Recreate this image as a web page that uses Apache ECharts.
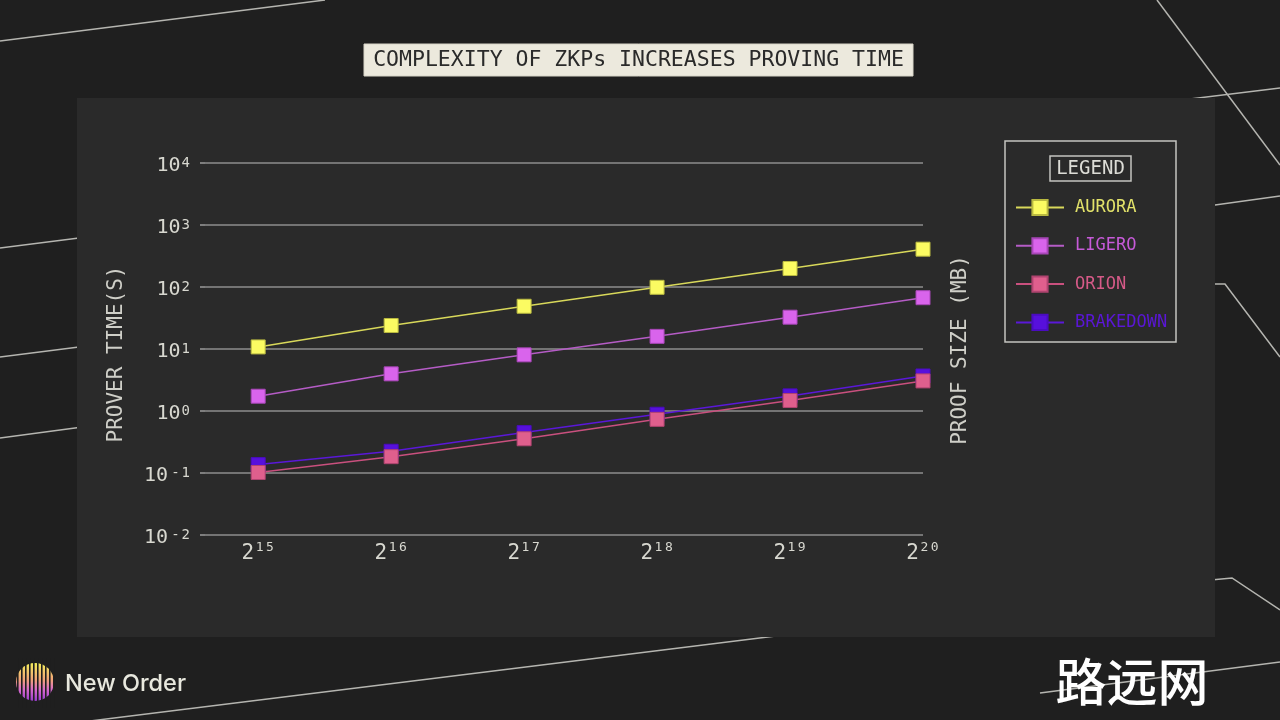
<!DOCTYPE html>
<html><head><meta charset="utf-8">
<script src="https://cdn.jsdelivr.net/npm/echarts@6/dist/echarts.min.js"></script>
<style>html,body{margin:0;padding:0;background:#1f1f1f;}#c{width:1280px;height:720px;}</style>
</head><body><div id="c"></div>
<script>
// x categories are exponents of 2 (2^15 ... 2^20)
const xExponents = [15, 16, 17, 18, 19, 20];
const seriesNames = ['AURORA', 'LIGERO', 'ORION', 'BRAKEDOWN'];
const aurora    = [10.6, 23.5, 48, 97, 195, 400];
const ligero    = [1.7, 3.9, 7.9, 15.7, 32, 66];
const orion     = [0.1, 0.18, 0.35, 0.72, 1.45, 3.0];
const brakedown = [0.134, 0.22, 0.44, 0.87, 1.72, 3.6];
const yTickExponents = [-2, -1, 0, 1, 2, 3, 4];

const MONO = '"DejaVu Sans Mono", "Liberation Mono", monospace';
const chart = echarts.init(document.getElementById('c'), null, {renderer: 'canvas'});

const styles = {
  AURORA:    {line: '#d8d85a', fill: '#fbfb62', border: '#b9b940', text: '#e2e26a'},
  LIGERO:    {line: '#b55cc6', fill: '#d964ec', border: '#a846b8', text: '#c65ad8'},
  ORION:     {line: '#c9507e', fill: '#df5f8d', border: '#b04470', text: '#d65a88'},
  BRAKEDOWN: {line: '#5a18d8', fill: '#5710dc', border: '#4a0cc0', text: '#5a16d6'}
};
const values = {AURORA: aurora, LIGERO: ligero, ORION: orion, BRAKEDOWN: brakedown};

function mkSeries(name) {
  const st = styles[name];
  return {
    name: name, type: 'line',
    data: xExponents.map((e, i) => [e, values[name][i]]),
    symbol: 'rect', symbolSize: 14,
    lineStyle: {color: st.line, width: 1.5},
    itemStyle: {color: st.fill, borderColor: st.border, borderWidth: 1},
    emphasis: {disabled: true}
  };
}

function bgLine(points) {
  return {type: 'polyline', z: -20, silent: true,
    shape: {points: points},
    style: {stroke: '#b5b5b0', lineWidth: 1.5, fill: null}};
}

// logo stripes
const logoEls = [];
logoEls.push({type: 'circle', z: -3, shape: {cx: 35, cy: 682, r: 19},
  style: {fill: new echarts.graphic.LinearGradient(0, 0, 0, 1, [
    {offset: 0, color: '#f3ee5a'}, {offset: 0.45, color: '#f2a27a'},
    {offset: 0.7, color: '#d86acc'}, {offset: 1, color: '#9a3ccf'}])}});
for (let x = 17; x <= 53; x += 4) {
  logoEls.push({type: 'rect', z: -2, shape: {x: x, y: 658, width: 1.6, height: 50},
    style: {fill: '#1f1f1f'}});
}

const LBL = '#d8d8d0';
const option = {
  backgroundColor: '#1f1f1f',
  animation: false,
  grid: {left: 205, right: 357, top: 162.5, bottom: 185.5, containLabel: false},
  xAxis: {
    type: 'value', min: 14.6, max: 20,
    axisLine: {show: false}, axisTick: {show: false}, splitLine: {show: false},
    axisLabel: {
      customValues: xExponents,
      margin: 7,
      formatter: function (v) {
        const digits = String(Math.round(v)).split('');
        return '{b|2}' + digits.map(d => '{s|' + d + '}').join('');
      },
      rich: {
        b: {fontFamily: MONO, fontSize: 21, lineHeight: 21, padding: [3, 0, 0, 0], color: LBL},
        s: {fontFamily: MONO, fontSize: 13, lineHeight: 13, verticalAlign: 'top', color: LBL, padding: [0, 1, 0, 1.5]}
      }
    }
  },
  yAxis: {
    type: 'log', logBase: 10,
    min: Math.pow(10, yTickExponents[0]), max: Math.pow(10, yTickExponents[yTickExponents.length - 1]),
    splitNumber: yTickExponents.length - 1,
    axisLine: {show: false},
    axisTick: {show: true, length: 5, lineStyle: {color: '#9a9a9a', width: 1.5}},
    splitLine: {show: true, lineStyle: {color: '#8e8e8e', width: 1.5}},
    axisLabel: {
      margin: 15,
      formatter: function (v) {
        const e = Math.round(Math.log10(v));
        if (e < 0) return '{b|10}{m|-}{s|' + Math.abs(e) + '}';
        return '{b|10}{p|' + e + '}';
      },
      rich: {
        b: {fontFamily: MONO, fontSize: 20, lineHeight: 20, padding: [7, 0, 0, 0], color: LBL},
        p: {fontFamily: MONO, fontSize: 14, lineHeight: 14, padding: [4, 0, 0, 1], verticalAlign: 'top', color: LBL},
        m: {fontFamily: MONO, fontSize: 14, lineHeight: 14, padding: [4, 2, 0, 3], verticalAlign: 'top', color: LBL},
        s: {fontFamily: MONO, fontSize: 14, lineHeight: 14, padding: [4, 0, 0, 0], verticalAlign: 'top', color: LBL}
      }
    }
  },
  legend: {
    orient: 'vertical', left: 1015, top: 197, padding: 0,
    itemWidth: 48, itemHeight: 19, itemGap: 17.3,
    selectedMode: false,
    textStyle: {fontFamily: MONO, fontSize: 17, lineHeight: 19, padding: [2, 0, 0, 6]},
    data: seriesNames.map(n => ({name: n, textStyle: {color: styles[n].text}}))
  },
  series: [mkSeries('AURORA'), mkSeries('LIGERO'), mkSeries('BRAKEDOWN'), mkSeries('ORION')],
  graphic: {elements: [
    bgLine([[0, 41], [325, 0]]),
    bgLine([[1157, 0], [1280, 165]]),
    bgLine([[1100, 110], [1280, 88]]),
    bgLine([[1150, 214], [1280, 196]]),
    bgLine([[1200, 284], [1225, 284], [1280, 357]]),
    bgLine([[0, 248], [150, 229]]),
    bgLine([[0, 357], [150, 338]]),
    bgLine([[0, 438], [150, 418]]),
    bgLine([[90, 721], [800, 633]]),
    bgLine([[1040, 693], [1280, 662]]),
    bgLine([[1200, 581], [1232, 578], [1280, 610]]),
    {type: 'rect', z: -10, silent: true, shape: {x: 77, y: 98, width: 1138, height: 539},
      style: {fill: '#2a2a2a'}},
    // title
    {type: 'rect', z: 5, shape: {x: 364, y: 44, width: 549, height: 32},
      style: {fill: '#ece9dd', stroke: '#d8d5c8', lineWidth: 1}},
    {type: 'text', z: 6, x: 638.5, y: 60.5,
      style: {text: 'COMPLEXITY OF ZKPs INCREASES PROVING TIME', fill: '#2a2a2a',
        font: '21.5px ' + MONO, textAlign: 'center', textVerticalAlign: 'middle'}},
    // axis titles
    {type: 'text', z: 5, x: 117, y: 354, rotation: Math.PI / 2,
      style: {text: 'PROVER TIME(S)', fill: '#cfcfc8', font: '21px ' + MONO,
        textAlign: 'center', textVerticalAlign: 'middle'}},
    {type: 'text', z: 5, x: 961, y: 350, rotation: Math.PI / 2,
      style: {text: 'PROOF SIZE (MB)', fill: '#cfcfc8', font: '21px ' + MONO,
        textAlign: 'center', textVerticalAlign: 'middle'}},
    // legend boxes
    {type: 'rect', z: 5, silent: true, shape: {x: 1005, y: 141, width: 171, height: 201},
      style: {fill: null, stroke: '#c4c4c0', lineWidth: 1.5}},
    {type: 'rect', z: 5, silent: true, shape: {x: 1050, y: 156, width: 81, height: 25},
      style: {fill: null, stroke: '#c4c4c0', lineWidth: 1.5}},
    {type: 'text', z: 6, x: 1090.5, y: 169,
      style: {text: 'LEGEND', fill: '#dcdcd6', font: '19px ' + MONO,
        textAlign: 'center', textVerticalAlign: 'middle'}},
    // logo
    ...logoEls,
    {type: 'text', z: 5, x: 65, y: 684,
      style: {text: 'New Order', fill: '#e8e8de', font: '500 23.5px Inter, "Noto Sans", sans-serif',
        textAlign: 'left', textVerticalAlign: 'middle'}},
    // watermark
    {type: 'text', z: 5, x: 1132, y: 682,
      style: {text: '路远网', fill: '#ffffff', font: '500 51px "Noto Sans CJK SC", sans-serif',
        textAlign: 'center', textVerticalAlign: 'middle'}}
  ]}
};
chart.setOption(option);
</script>
</body></html>
